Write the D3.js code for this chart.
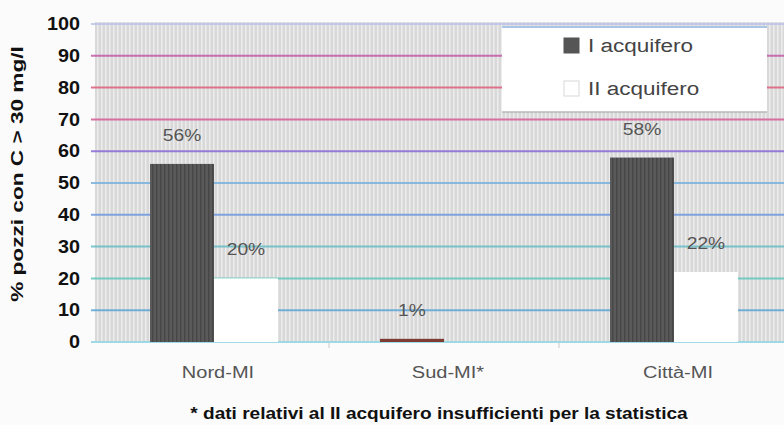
<!DOCTYPE html>
<html>
<head>
<meta charset="utf-8">
<script src="https://cdn.jsdelivr.net/npm/d3@7"></script>
<style>
  html, body { margin: 0; padding: 0; background: #fbfbfb; }
  svg { display: block; font-family: "Liberation Sans", Arial, sans-serif; }
</style>
</head>
<body>
<svg id="chart" width="784" height="425"></svg>
<script>
// Share of wells with concentration above 30 mg/l, by zone and aquifer
const categories = ["Nord-MI", "Sud-MI*", "Città-MI"];
const seriesNames = ["I acquifero", "II acquifero"];
const valuesI = [56, 1, 58];
const valuesII = [20, null, 22];
const yTicks = [0, 10, 20, 30, 40, 50, 60, 70, 80, 90, 100];
const yTitle = "% pozzi con C > 30 mg/l";
const footnote = "* dati relativi al II acquifero insufficienti per la statistica";

const svg = d3.select("#chart");
const plot = { left: 95, right: 784, top: 22, bottom: 342 };

// Scanned-print look: glyphs are a little wider than the font's own
function widen(sel, k) {
  sel.each(function () {
    const len = this.getComputedTextLength();
    d3.select(this).attr("textLength", len * k).attr("lengthAdjust", "spacingAndGlyphs");
  });
}

const defs = svg.append("defs");
const bgPat = defs.append("pattern").attr("id", "bgStripe")
  .attr("width", 4).attr("height", 8).attr("patternUnits", "userSpaceOnUse");
bgPat.append("rect").attr("width", 4).attr("height", 8).attr("fill", "#d8d8d8");
bgPat.append("rect").attr("x", 1).attr("width", 1.5).attr("height", 8).attr("fill", "#ededed");

const darkPat = defs.append("pattern").attr("id", "darkStripe")
  .attr("width", 4).attr("height", 8).attr("patternUnits", "userSpaceOnUse");
darkPat.append("rect").attr("width", 4).attr("height", 8).attr("fill", "#5a5a5a");
darkPat.append("rect").attr("x", 1).attr("width", 1.5).attr("height", 8).attr("fill", "#474747");

// Scales
const y = d3.scaleLinear().domain([0, 100]).range([plot.bottom, 24]);
const x0 = d3.scaleBand().domain(categories).range([99, 789]).paddingInner(0).paddingOuter(0);
const x1 = d3.scaleBand().domain(seriesNames).range([0, x0.bandwidth()])
  .paddingInner(0).paddingOuter(0.797);

// Plot background
svg.append("rect")
  .attr("x", plot.left).attr("y", plot.top)
  .attr("width", plot.right - plot.left).attr("height", plot.bottom - plot.top)
  .attr("fill", "url(#bgStripe)");

// Coloured grid lines
const gridColors = ["#8fd6e4", "#5ea6d6", "#62c6bc", "#66bec6", "#6c98de",
                    "#78b2de", "#8868d4", "#d65c96", "#de5f7c", "#c45aa8", "#bcc4ea"];
svg.append("g").selectAll("line")
  .data(yTicks)
  .join("line")
  .attr("x1", plot.left - 4).attr("x2", plot.right)
  .attr("y1", d => y(d)).attr("y2", d => y(d))
  .attr("stroke", (d, i) => gridColors[i])
  .attr("stroke-width", 2)
  .attr("opacity", 0.85);

// Category separators below the baseline
svg.append("g").selectAll("line")
  .data(categories.slice(1))
  .join("line")
  .attr("x1", d => x0(d)).attr("x2", d => x0(d))
  .attr("y1", plot.bottom + 1).attr("y2", plot.bottom + 6)
  .attr("stroke", "#c8c8c8").attr("stroke-width", 1);

// Bars
const rows = categories.map((c, i) => ({
  cat: c,
  bars: [
    { s: seriesNames[0], v: valuesI[i] },
    { s: seriesNames[1], v: valuesII[i] }
  ].filter(b => b.v != null)
}));

const fills = { "I acquifero": "url(#darkStripe)", "II acquifero": "#ffffff" };

const groups = svg.append("g").selectAll("g")
  .data(rows)
  .join("g")
  .attr("transform", d => `translate(${x0(d.cat)},0)`);

groups.selectAll("rect")
  .data(d => d.bars)
  .join("rect")
  .attr("x", d => x1(d.s))
  .attr("y", d => y(d.v))
  .attr("width", x1.bandwidth())
  .attr("height", d => y(0) - y(d.v))
  .attr("fill", d => (d.v < 3 && d.s === seriesNames[0]) ? "#7c3c34" : fills[d.s]);

// Value labels
groups.selectAll("text")
  .data(d => d.bars)
  .join("text")
  .attr("x", d => x1(d.s) + x1.bandwidth() / 2)
  .attr("y", d => y(d.v) - 23)
  .attr("text-anchor", "middle")
  .attr("font-size", 16)
  .attr("fill", "#555")
  .text(d => d.v + "%")
  .call(widen, 1.2);

// Y axis
const yAxis = svg.append("g")
  .attr("transform", `translate(${plot.left},0)`)
  .call(d3.axisLeft(y).tickValues(yTicks).tickSize(0).tickPadding(15));
yAxis.select(".domain").remove();
yAxis.selectAll("text")
  .attr("font-family", "'Liberation Sans', Arial, sans-serif")
  .attr("font-size", 18)
  .attr("font-weight", "bold")
  .attr("fill", "#111")
  .call(widen, 1.1);

// X axis labels
svg.append("g").selectAll("text")
  .data(categories)
  .join("text")
  .attr("x", d => x0(d) + x0.bandwidth() / 2 + 4)
  .attr("y", 378)
  .attr("text-anchor", "middle")
  .attr("font-size", 16)
  .attr("fill", "#555")
  .text(d => d)
  .call(widen, 1.25);

// Y title
svg.append("text")
  .attr("transform", "translate(23,174) rotate(-90)")
  .attr("text-anchor", "middle")
  .attr("font-size", 17)
  .attr("font-weight", "bold")
  .attr("fill", "#111")
  .text(yTitle)
  .call(widen, 1.33);

// Footnote
svg.append("text")
  .attr("x", 439).attr("y", 419)
  .attr("text-anchor", "middle")
  .attr("font-size", 16)
  .attr("font-weight", "bold")
  .attr("fill", "#111")
  .text(footnote)
  .call(widen, 1.19);

// Legend
const lg = svg.append("g").attr("transform", "translate(502,26)");
lg.append("rect").attr("width", 265).attr("height", 86).attr("fill", "#ffffff");
lg.append("line").attr("x1", 0).attr("x2", 265).attr("y1", 1).attr("y2", 1)
  .attr("stroke", "#a9c6e6").attr("stroke-width", 2);
lg.append("line").attr("x1", 0).attr("x2", 265).attr("y1", 86).attr("y2", 86)
  .attr("stroke", "#b8b8b8").attr("stroke-width", 1.5);
const items = lg.selectAll("g.item")
  .data(seriesNames)
  .join("g")
  .attr("class", "item")
  .attr("transform", (d, i) => `translate(62,${19 + i * 43})`);
items.append("rect")
  .attr("x", 0).attr("y", -7).attr("width", 15).attr("height", 15)
  .attr("fill", (d, i) => i === 0 ? "#555" : "#fff")
  .attr("stroke", (d, i) => i === 0 ? "#555" : "#d8d8d8");
items.append("text")
  .attr("x", 24).attr("y", 7)
  .attr("font-size", 18)
  .attr("fill", "#444")
  .text(d => d)
  .call(widen, 1.25);
</script>
</body>
</html>
